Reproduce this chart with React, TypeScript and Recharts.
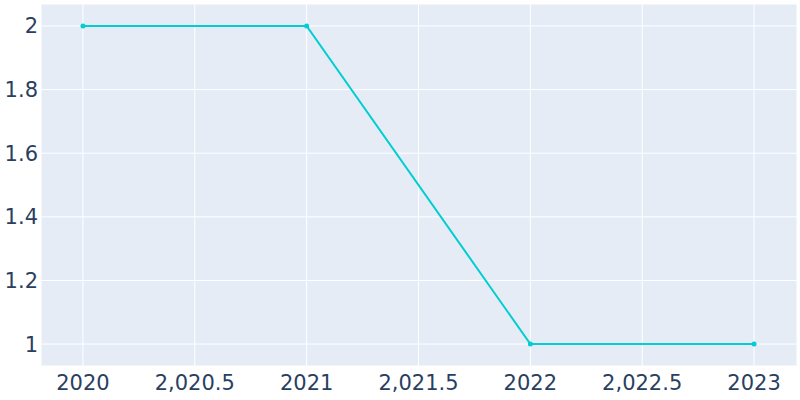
import React from "react";
import { LineChart, Line, XAxis, YAxis, CartesianGrid } from "recharts";

const years = [2020, 2021, 2022, 2023];
const values = [2, 2, 1, 1];
const xTicks = [2020, 2020.5, 2021, 2021.5, 2022, 2022.5, 2023];
const yTicks = [1, 1.2, 1.4, 1.6, 1.8, 2];

const data = years.map((y, i) => ({ year: y, value: values[i] }));

const fmtX = (v: number) =>
  Number.isInteger(v) ? String(v) : v.toLocaleString("en-US", { maximumFractionDigits: 1 });
const fmtY = (v: number) => String(Math.round(v * 10) / 10);

const tickStyle = { fill: "#2a3f5f", fontSize: 21, fontFamily: "DejaVu Sans" };

export default function App() {
  return (
    <div style={{ position: "fixed", left: 0, top: 0, width: 800, height: 400, background: "#fff" }}>
      <LineChart width={800} height={400} data={data} margin={{ top: 4, right: 3, left: 0, bottom: 0 }}>
        <CartesianGrid fill="#E5ECF6" stroke="#ffffff" strokeWidth={1} />
        <XAxis
          dataKey="year"
          type="number"
          domain={[2019.8125, 2023.192]}
          ticks={xTicks}
          tickFormatter={fmtX}
          axisLine={false}
          tickLine={false}
          tickSize={0}
          tickMargin={9}
          height={34}
          tick={tickStyle}
          allowDataOverflow
        />
        <YAxis
          type="number"
          domain={[0.931, 2.069]}
          ticks={yTicks}
          tickFormatter={fmtY}
          axisLine={false}
          tickLine={false}
          tickSize={0}
          tickMargin={3}
          width={41}
          tick={tickStyle}
          allowDataOverflow
        />
        <Line
          type="linear"
          dataKey="value"
          stroke="#00CED1"
          strokeWidth={2}
          dot={{ r: 2.5, fill: "#00CED1", stroke: "#00CED1", strokeWidth: 0 }}
          activeDot={false}
          isAnimationActive={false}
        />
      </LineChart>
    </div>
  );
}
